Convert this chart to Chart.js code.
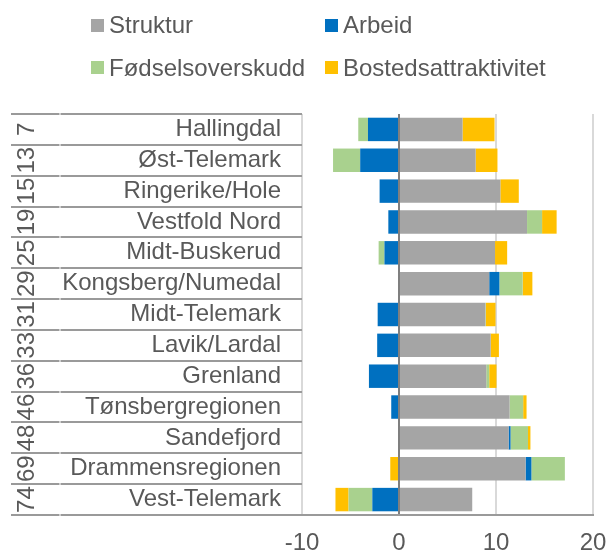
<!DOCTYPE html>
<html>
<head>
<meta charset="utf-8">
<script src="https://cdn.jsdelivr.net/npm/chart.js@4/dist/chart.umd.min.js"></script>
<style>
  html, body { margin: 0; padding: 0; background: #fff; }
  #wrap { position: relative; width: 610px; height: 554px; }
  #legend {
    position: absolute; left: 91px; top: 4px;
    display: grid; grid-template-columns: 234px auto; grid-auto-rows: 42.5px;
    font-family: "Liberation Sans", Arial, sans-serif; font-size: 24px; color: #595959;
  }
  #legend .item { display: flex; align-items: center; white-space: nowrap; }
  #legend .box { width: 13px; height: 13px; margin-right: 5px; flex: none; }
</style>
</head>
<body>
<div id="wrap">
  <canvas id="chart" width="610" height="554"></canvas>
  <div id="legend"></div>
</div>
<script>
// Regioner og rangering
const regions = ['Hallingdal', 'Øst-Telemark', 'Ringerike/Hole', 'Vestfold Nord', 'Midt-Buskerud',
  'Kongsberg/Numedal', 'Midt-Telemark', 'Lavik/Lardal', 'Grenland', 'Tønsbergregionen',
  'Sandefjord', 'Drammensregionen', 'Vest-Telemark'];
const ranks = ['7', '13', '15', '19', '25', '29', '31', '33', '36', '46', '48', '69', '74'];

// Serier
const seriesNames = ['Struktur', 'Arbeid', 'Fødselsoverskudd', 'Bostedsattraktivitet'];
const struktur = [6.55, 7.9, 10.45, 13.2, 9.9, 9.3, 8.9, 9.45, 9.0, 11.4, 11.3, 13.05, 7.55];
const arbeid = [-3.2, -4.0, -2.0, -1.1, -1.5, 1.05, -2.2, -2.25, -3.1, -0.8, 0.2, 0.6, -2.75];
const fodsel = [-1.0, -2.8, 0, 1.55, -0.6, 2.4, 0.05, 0, 0.3, 1.4, 1.8, 3.45, -2.45];
const bosted = [3.3, 2.25, 1.9, 1.5, 1.25, 1.0, 1.0, 0.85, 0.75, 0.35, 0.25, -0.9, -1.35];

// Akse
const xTicks = [-10, 0, 10, 20];

const seriesColors = ['#a5a5a5', '#0070c0', '#a9d18e', '#ffc000'];
const FONT = '"Liberation Sans", Arial, sans-serif';
const TEXT = '#595959';

// Legend som HTML-rutenett (2 kolonner)
const legendEl = document.getElementById('legend');
seriesNames.forEach((name, i) => {
  const item = document.createElement('div');
  item.className = 'item';
  item.innerHTML = '<span class="box" style="background:' + seriesColors[i] + '"></span>' + name;
  legendEl.appendChild(item);
});

// Tabell-linjer og rangnummer til venstre
const rankPlugin = {
  id: 'rankTable',
  afterDraw(chart) {
    const ctx = chart.ctx;
    const y = chart.scales.y;
    const left = 11, split = 60, right = chart.chartArea.left;
    const half = (y.getPixelForValue(1) - y.getPixelForValue(0)) / 2;
    ctx.save();
    ctx.lineWidth = 2;
    for (let i = 0; i <= regions.length; i++) {
      const py = Math.round(y.getPixelForValue(i) - half);
      ctx.strokeStyle = '#9a9a9a';
      ctx.beginPath();
      ctx.moveTo(left, py);
      ctx.lineTo(split - 0.5, py);
      ctx.moveTo(split + 0.5, py);
      ctx.lineTo(right, py);
      ctx.stroke();
      ctx.strokeStyle = '#d0d0d0';
      ctx.beginPath();
      ctx.moveTo(split - 0.5, py);
      ctx.lineTo(split + 0.5, py);
      ctx.stroke();
    }
    ctx.fillStyle = TEXT;
    ctx.font = '24px ' + FONT;
    ctx.textAlign = 'center';
    ctx.textBaseline = 'middle';
    ranks.forEach((r, i) => {
      ctx.save();
      ctx.translate(27, y.getPixelForValue(i));
      ctx.rotate(-Math.PI / 2);
      ctx.fillText(r, 0, 0);
      ctx.restore();
    });
    ctx.restore();
  }
};

const data = [struktur, arbeid, fodsel, bosted];

new Chart(document.getElementById('chart'), {
  type: 'bar',
  data: {
    labels: regions,
    datasets: seriesNames.map((name, i) => ({
      label: name,
      data: data[i],
      backgroundColor: seriesColors[i],
      borderWidth: 0,
      barPercentage: 0.76,
      categoryPercentage: 1
    }))
  },
  options: {
    indexAxis: 'y',
    responsive: false,
    animation: false,
    layout: { padding: { top: 114, right: 0, bottom: 0, left: 0 } },
    plugins: {
      legend: { display: false },
      tooltip: { enabled: false }
    },
    scales: {
      x: {
        stacked: true,
        min: -10,
        max: 20,
        afterBuildTicks: (scale) => { scale.ticks = xTicks.map(v => ({ value: v })); },
        afterFit: (scale) => {
          scale.height = 39;
          scale.paddingLeft = 0;
          scale.paddingRight = 17;
        },
        grid: {
          color: (c) => (c.tick && c.tick.value === 0 ? '#7f7f7f' : '#d9d9d9'),
          lineWidth: 2,
          drawTicks: false
        },
        border: { display: true, color: '#9a9a9a', width: 2 },
        ticks: {
          padding: 14,
          color: TEXT,
          font: { family: FONT, size: 24 }
        }
      },
      y: {
        stacked: true,
        afterFit: (scale) => { scale.width = 302; },
        grid: { display: false, drawTicks: false },
        border: { display: false },
        ticks: {
          autoSkip: false,
          padding: 21,
          color: TEXT,
          font: { family: FONT, size: 24 }
        }
      }
    }
  },
  plugins: [rankPlugin]
});
</script>
</body>
</html>
